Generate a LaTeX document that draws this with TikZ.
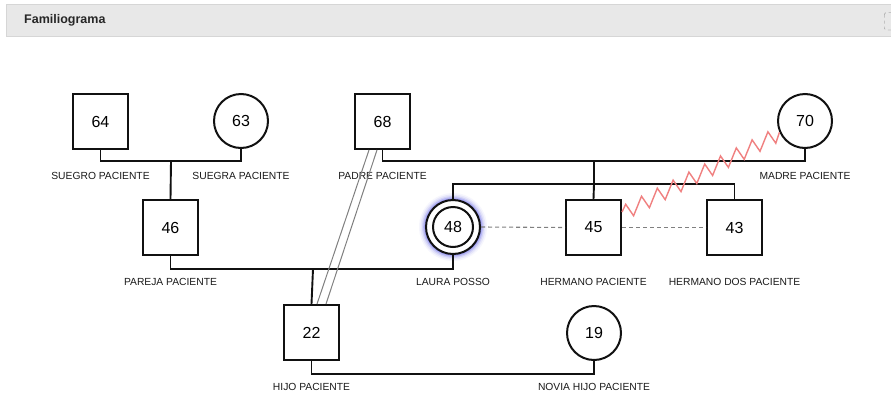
\documentclass[tikz,border=0pt]{standalone}
\usepackage{fontspec}
\setmainfont{Liberation Sans}
\definecolor{hdrfill}{HTML}{E8E8E8}
\definecolor{hdrline}{HTML}{D6D6D6}
\definecolor{ink}{HTML}{111111}
\definecolor{lblink}{HTML}{1A1A1A}
\definecolor{twingray}{HTML}{808080}
\definecolor{dashgray}{HTML}{808080}
\definecolor{zigred}{HTML}{F08080}
\definecolor{glow}{HTML}{5A5AE6}
\begin{document}
\begin{tikzpicture}[x=1pt,y=-1pt,
  sq/.style={draw=ink, line width=2pt, minimum size=55pt, inner sep=0pt,
    fill=white, font=\fontsize{16}{18}\selectfont},
  ci/.style={draw=ink, circle, line width=2pt, minimum size=54pt, inner sep=0pt,
    fill=white, font=\fontsize{16}{18}\selectfont},
  inner/.style={draw=ink, circle, line width=2pt, minimum size=40pt, inner sep=0pt},
  lbl/.style={font=\fontsize{10.3}{12}\selectfont, text=lblink, inner sep=0pt},
  rel/.style={draw=ink, line width=1.9pt},
  twin/.style={draw=twingray, line width=1pt},
  sibdash/.style={draw=dashgray, line width=1.1pt, dash pattern=on 4pt off 3pt},
  zig/.style={draw=zigred, line width=1.4pt, line join=miter},
]
\useasboundingbox (0,0) rectangle (891,402);
\fill[white] (0,0) rectangle (891,402);
% header
\draw[hdrline, fill=hdrfill] (6,4.5) rectangle (900,36);
\node[anchor=west, font=\bfseries\fontsize{12.5}{14}\selectfont, text=black!85, inner sep=0pt] (title) at (24,20) {Familiograma};
\draw[black!50, dashed, rounded corners=2pt, fill=hdrfill] (884.5,12.5) rectangle (900,30);

% glow for Laura
\foreach \r/\o in {34/0.05, 32.5/0.09, 31/0.14, 29.8/0.22, 28.6/0.32} {
  \fill[glow, opacity=\o] (453,227) circle (\r);
}

% nodes
\node[sq] (s64) at (100.5,121.5) {64};
\node[ci] (c63) at (241,121) {63};
\node[sq] (s68) at (382.5,121.5) {68};
\node[ci] (c70) at (805,121) {70};
\node[sq] (s46) at (170.5,227.5) {46};
\node[ci] (c48) at (453,227) {};
\node[inner] (c48i) at (453,227) {\fontsize{16}{18}\selectfont 48};
\node[sq] (s45) at (593.5,227.5) {45};
\node[sq] (s43) at (734.5,227.5) {43};
\node[sq] (s22) at (311.5,332.5) {22};
\node[ci] (c19) at (594,333) {19};

% labels
\node[lbl] (l64) at (100.5,176) {SUEGRO PACIENTE};
\node[lbl] (l63) at (241,176) {SUEGRA PACIENTE};
\node[lbl] (l68) at (382.5,176) {PADRE PACIENTE};
\node[lbl] (l70) at (805,176) {MADRE PACIENTE};
\node[lbl] (l46) at (170.5,282) {PAREJA PACIENTE};
\node[lbl] (l48) at (453,282) {LAURA POSSO};
\node[lbl] (l45) at (593.5,282) {HERMANO PACIENTE};
\node[lbl] (l43) at (734.5,282) {HERMANO DOS PACIENTE};
\node[lbl] (l22) at (311.5,387) {HIJO PACIENTE};
\node[lbl] (l19) at (594,387) {NOVIA HIJO PACIENTE};

% junction coordinates
\coordinate (m1) at (171,161);
\coordinate (m2) at (594,161);
\coordinate (sib) at (594,184);
\coordinate (m3) at (313,269);
\coordinate (m4) at (450,374);

% relations
\draw[rel] (s64.south) |- (m1) -| (c63.south);
\draw[rel] (m1) -- (s46.north);
\draw[rel] (s68.south) |- (m2) -| (c70.south);
\draw[rel] (m2) -- (sib);
\draw[rel] (c48.north) |- (sib) -| (s43.north);
\draw[rel] (sib) -- (s45.north);
\draw[rel] (s46.south) |- (m3) -| (c48.south);
\draw[rel] (m3) -- (s22.north);
\draw[rel] (s22.south) |- (m4) -| (c19.south);

% sibling dashed links
\draw[sibdash] (c48.east) -- (s45.west);
\draw[sibdash] (s45.east) -- (s43.west);

% double line 68 - 22
\draw[twin] ([xshift=-13.5pt]s68.south) -- ([xshift=5.5pt]s22.north);
\draw[twin] ([xshift=-5.5pt]s68.south) -- ([xshift=14.5pt]s22.north);

% zigzag 45 - 70
\draw[zig] ([yshift=-13pt]s45.north east)
  \foreach \k in {0,...,19} { -- ({625.7+7.9*\k}, {204.3-4.029*\k+15.5*isodd(\k)}) }
  -- (c70.204);
\end{tikzpicture}
\end{document}
